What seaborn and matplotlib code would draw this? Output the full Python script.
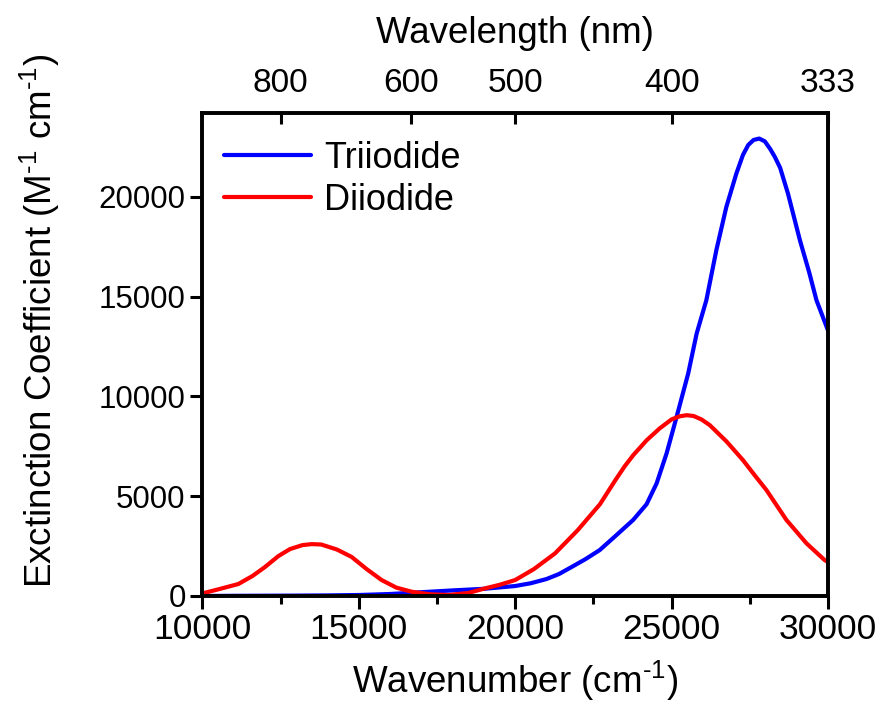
import numpy as np
import pandas as pd
import matplotlib
matplotlib.use("Agg")
import matplotlib.pyplot as plt
import seaborn as sns
from matplotlib.ticker import MultipleLocator

# ---- data ----
tri_x = [10000, 11000, 12000, 13000, 14000, 15000, 16000, 17000, 18000, 19000, 20000,
         20500, 21000, 21400, 21800, 22250, 22700, 23200, 23770, 24200, 24520, 24840,
         25160, 25530, 25800, 26110, 26430, 26750, 27070, 27280, 27450, 27620, 27800,
         27980, 28150, 28300, 28470, 28720, 29100, 29400, 29630, 30000]
tri_y = [0, 10, 15, 20, 30, 50, 100, 190, 280, 360, 500,
         640, 850, 1100, 1450, 1850, 2300, 3000, 3810, 4600, 5640, 7150,
         8980, 11150, 13150, 14820, 17330, 19500, 21170, 22100, 22600, 22850, 22920,
         22780, 22400, 22000, 21450, 20160, 17830, 16200, 14820, 13300]

di_x = [10000, 10500, 11150, 11600, 12000, 12430, 12800, 13200, 13500, 13800, 14300,
        14770, 15250, 15730, 16200, 16690, 17250, 17860, 18500, 19030, 19500, 20000,
        20600, 21270, 22000, 22710, 23200, 23500, 23770, 24200, 24620, 25000, 25250,
        25480, 25700, 25950, 26220, 26750, 27280, 27650, 28030, 28670, 29310, 29890,
        30000]
di_y = [130, 330, 600, 1000, 1450, 2000, 2350, 2550, 2600, 2580, 2330,
        1960, 1350, 800, 420, 215, 90, 50, 150, 380, 560, 800,
        1350, 2130, 3300, 4600, 5800, 6500, 7050, 7800, 8400, 8850, 9000,
        9060, 9020, 8850, 8560, 7750, 6810, 6060, 5310, 3810, 2640, 1800,
        1700]

series_names = ["Triiodide", "Diiodide"]
series_colors = ["#0000FF", "#FF0000"]

wl_ticks = [800, 600, 500, 400, 333.333]
wl_labels = ["800", "600", "500", "400", "333"]
x_major = [10000, 15000, 20000, 25000, 30000]
y_major = [0, 5000, 10000, 15000, 20000]

df = pd.concat([
    pd.DataFrame({"x": tri_x, "y": tri_y, "series": series_names[0]}),
    pd.DataFrame({"x": di_x, "y": di_y, "series": series_names[1]}),
], ignore_index=True)

# ---- style ----
sns.set_style("ticks")
plt.rcParams["font.family"] = ["Liberation Sans", "DejaVu Sans"]
plt.rcParams["mathtext.fontset"] = "custom"
plt.rcParams["mathtext.rm"] = "Liberation Sans"
plt.rcParams["mathtext.it"] = "Liberation Sans"
for k in ["text.color", "axes.labelcolor", "xtick.color", "ytick.color", "axes.edgecolor"]:
    plt.rcParams[k] = "black"

fig = plt.figure(figsize=(8.84, 7.02), dpi=100)
ax = fig.add_axes([0.2289, 0.151, 0.9367 - 0.2289, 0.839 - 0.151])

sns.lineplot(data=df, x="x", y="y", hue="series", hue_order=series_names,
             palette=series_colors, linewidth=3.0, ax=ax, sort=False,
             estimator=None)

ax.set_xlim(10000, 30000)
ax.set_ylim(0, 24200)
ax.set_xticks(x_major)
ax.set_yticks(y_major)
ax.xaxis.set_minor_locator(MultipleLocator(2500))
ax.tick_params(axis="x", which="major", direction="out", length=9, width=2.2,
               labelsize=25.5, pad=3, top=False)
ax.tick_params(axis="x", which="minor", direction="out", length=6, width=2.2, top=False)
ax.tick_params(axis="y", which="major", direction="out", length=9, width=2.2,
               labelsize=22.5, pad=3, right=False)
for s in ax.spines.values():
    s.set_visible(True)
    s.set_linewidth(2.6)

ax.set_xlabel("Wavenumber (cm$^{\\text{-}1}$)", fontsize=26.5)
ax.xaxis.set_label_coords(0.5, -0.131)
ax.set_ylabel("Exctinction Coefficient (M$^{\\text{-}1}$ cm$^{\\text{-}1}$)", fontsize=26.5)
ax.yaxis.set_label_coords(-0.225, 0.569)

leg = ax.legend(loc="upper left", frameon=False, fontsize=26, handlelength=2.4,
                handletextpad=0.35, labelspacing=0.2, borderaxespad=0.3,
                bbox_to_anchor=(-0.005, 0.995))
for h in leg.get_lines():
    h.set_linewidth(3.0)

ax2 = ax.twiny()
ax2.set_xlim(ax.get_xlim())
ax2.set_xticks([1e7 / w for w in wl_ticks])
ax2.set_xticklabels(wl_labels)
ax2.tick_params(axis="x", which="major", direction="in", length=8, width=2.2,
                labelsize=24, pad=10)
ax2.set_xlabel("Wavelength (nm)", fontsize=26.5, labelpad=18)
for s in ax2.spines.values():
    s.set_linewidth(2.6)

fig.savefig("out.png", dpi=100)
